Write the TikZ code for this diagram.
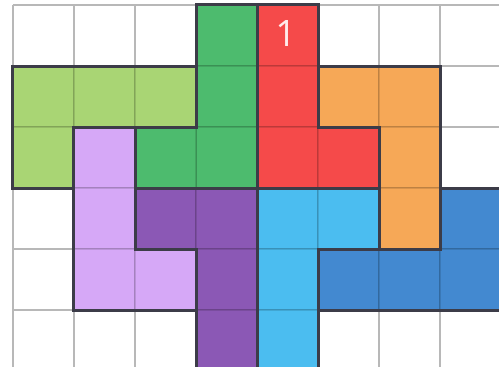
\documentclass[tikz,border=0pt]{standalone}
\usepackage{fontspec}
\setsansfont{Open Sans}
\definecolor{lgreen}{HTML}{A9D574}
\definecolor{dgreen}{HTML}{4DBB6E}
\definecolor{pred}{HTML}{F54A4A}
\definecolor{porange}{HTML}{F6A857}
\definecolor{lpurple}{HTML}{D6A8F7}
\definecolor{dpurple}{HTML}{8B58B5}
\definecolor{lblue}{HTML}{4BBDF0}
\definecolor{dblue}{HTML}{4389D0}
\definecolor{gridc}{HTML}{B8B8B8}
\definecolor{edgec}{HTML}{3C3C48}
\tikzset{
  gridline/.style={draw=gridc, line width=1pt},
  innerline/.style={draw=black, draw opacity=0.12, line width=0.6pt},
  piece/.style={draw=edgec, line width=1.4pt, line join=miter},
  numlabel/.style={text=red!8, font=\sffamily\fontsize{17}{17}\selectfont, inner sep=0pt}
}
\begin{document}
\begin{tikzpicture}
\useasboundingbox (-0.213,0.082) rectangle (7.967,-5.934);
\fill[white] (-0.213,0.082) rectangle (7.967,-5.934);
% grid
\foreach \x in {0,...,8} \draw[gridline] (\x,0) -- (\x,-6.2);
\foreach \y in {0,...,6} \draw[gridline] (0,-\y) -- (8.2,-\y);
% cells
\foreach \col/\c/\r in {
  lgreen/0/1, lgreen/1/1, lgreen/2/1, lgreen/0/2,
  dgreen/3/0, dgreen/3/1, dgreen/3/2, dgreen/2/2,
  pred/4/0, pred/4/1, pred/4/2, pred/5/2,
  porange/5/1, porange/6/1, porange/6/2, porange/6/3,
  lpurple/1/2, lpurple/1/3, lpurple/1/4, lpurple/2/4,
  dpurple/2/3, dpurple/3/3, dpurple/3/4, dpurple/3/5,
  lblue/4/3, lblue/5/3, lblue/4/4, lblue/4/5,
  dblue/7/3, dblue/5/4, dblue/6/4, dblue/7/4}
  {\fill[\col] (\c,-\r) rectangle ++(1,-1);
   \draw[innerline] (\c,-\r) rectangle ++(1,-1);}
% piece outlines
\draw[piece] (0,-1) -- (3,-1) -- (3,-2) -- (1,-2) -- (1,-3) -- (0,-3) -- cycle;
\draw[piece] (3,0) -- (4,0) -- (4,-3) -- (2,-3) -- (2,-2) -- (3,-2) -- cycle;
\draw[piece] (4,0) -- (5,0) -- (5,-2) -- (6,-2) -- (6,-3) -- (4,-3) -- cycle;
\draw[piece] (5,-1) -- (7,-1) -- (7,-4) -- (6,-4) -- (6,-2) -- (5,-2) -- cycle;
\draw[piece] (1,-2) -- (2,-2) -- (2,-4) -- (3,-4) -- (3,-5) -- (1,-5) -- cycle;
\draw[piece] (2,-3) -- (4,-3) -- (4,-6.2) -- (3,-6.2) -- (3,-4) -- (2,-4) -- cycle;
\draw[piece] (4,-3) -- (6,-3) -- (6,-4) -- (5,-4) -- (5,-6.2) -- (4,-6.2) -- cycle;
\draw[piece] (7,-3) -- (8,-3) -- (8,-5) -- (5,-5) -- (5,-4) -- (7,-4) -- cycle;
\node[numlabel] (one) at (4.47,-0.47) {1};
\end{tikzpicture}
\end{document}
